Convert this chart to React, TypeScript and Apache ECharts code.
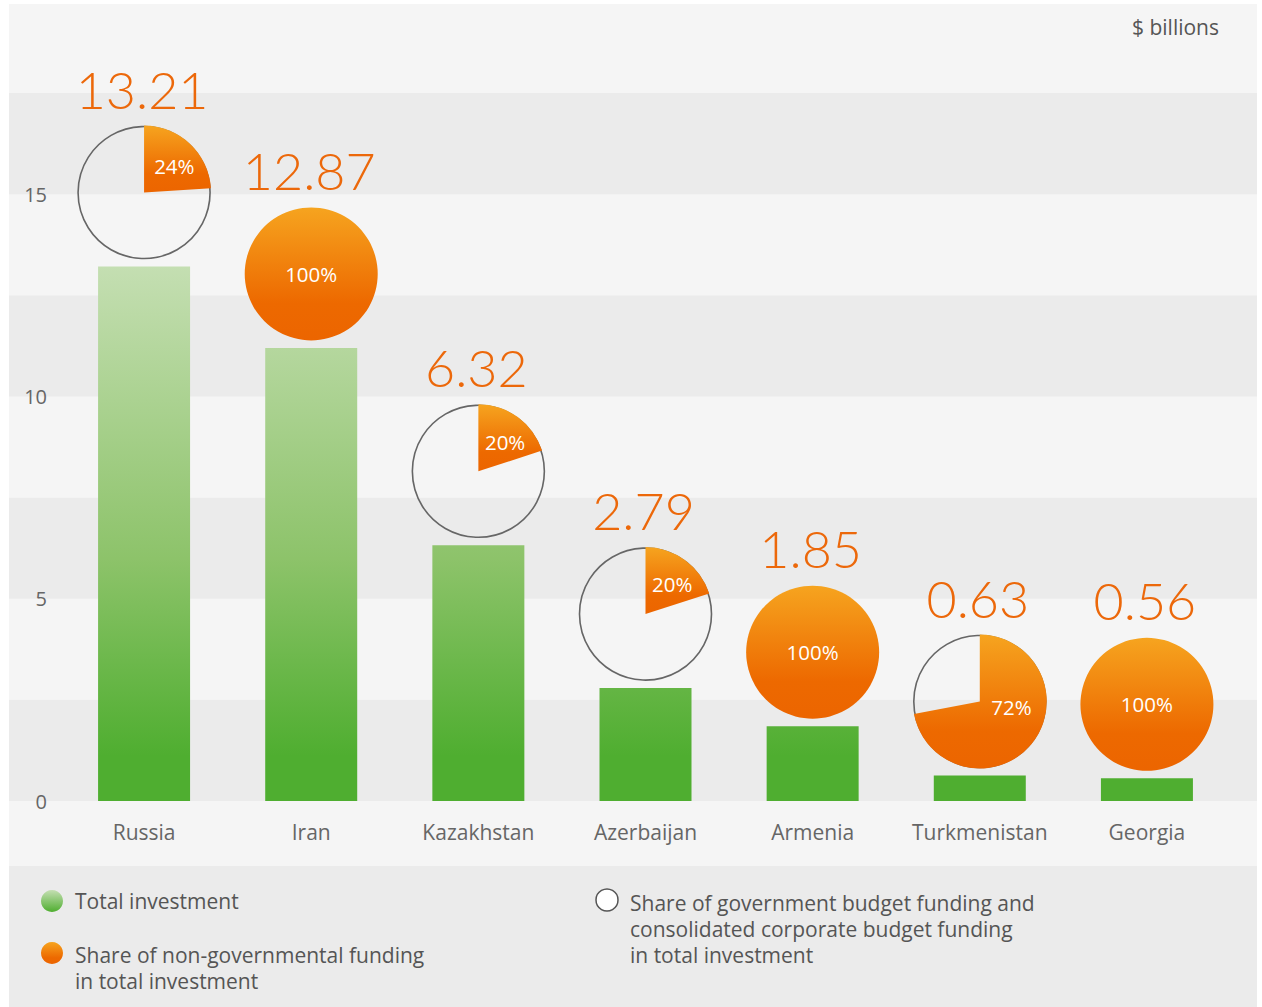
import React, { useEffect, useRef } from "react";
import * as echarts from "echarts";

const countries = ["Russia", "Iran", "Kazakhstan", "Azerbaijan", "Armenia", "Turkmenistan", "Georgia"];
// labelled totals ($ billions)
const totalInvestment = [13.21, 12.87, 6.32, 2.79, 1.85, 0.63, 0.56];
// bar heights as drawn in the reference (Iran's bar is drawn lower than its label)
const drawnBarHeights = [13.21, 11.2, 6.32, 2.79, 1.85, 0.63, 0.56];
// share of non-governmental funding, %
const nonGovShare = [24, 100, 20, 20, 100, 72, 100];
const yTickLabels = [0, 5, 10, 15];

const FONT = "'Open Sans', Lato, sans-serif";
const NUM_FONT = "Lato, 'Open Sans', sans-serif";
const ORANGE_TEXT = "#ec680a";
const TXT = 21;

const orangeGrad = () =>
  new echarts.graphic.LinearGradient(0, 0, 0, 1, [
    { offset: 0, color: "#f6a41f" },
    { offset: 0.72, color: "#ed6900" },
    { offset: 1, color: "#ec6500" },
  ]);

export default function App() {
  const ref = useRef<HTMLDivElement>(null);
  useEffect(() => {
    if (!ref.current) return;
    const chart = echarts.init(ref.current, undefined, { renderer: "svg" });
    const R = 66;
    const option: any = {
      animation: false,
      backgroundColor: "#f5f5f5",
      textStyle: { fontFamily: FONT },
      grid: [
        { left: 0, right: 0, top: 89, bottom: 206, outerBoundsMode: "none" },
        { left: 51.5, right: 26.5, top: 89, bottom: 206, outerBoundsMode: "none" },
      ],
      xAxis: [
        { gridIndex: 0, type: "value", min: 0, max: 1, show: false },
        {
          gridIndex: 1,
          type: "category",
          data: countries,
          axisLine: { show: false },
          axisTick: { show: false },
          axisLabel: {
            color: "#666",
            fontSize: TXT,
            margin: 20,
            fontFamily: FONT,
            interval: 0,
            hideOverlap: false,
          },
        },
      ],
      yAxis: [
        {
          gridIndex: 0,
          type: "value",
          min: 0,
          max: 17.5,
          interval: 2.5,
          axisLine: { show: false },
          axisTick: { show: false },
          splitLine: { show: false },
          splitArea: { show: true, areaStyle: { color: ["#ebebeb", "#f5f5f5"] } },
          axisLabel: {
            inside: true,
            align: "right",
            margin: 38,
            color: "#666",
            fontSize: 20,
            fontFamily: FONT,
            formatter: (v: number) => (yTickLabels.includes(v) ? String(v) : ""),
          },
        },
        { gridIndex: 1, type: "value", min: 0, max: 17.5, show: false },
      ],
      graphic: [
        { type: "rect", left: 0, top: 862, shape: { width: 1248, height: 141 }, style: { fill: "#ebebeb" }, z: -1 },
        {
          type: "text",
          right: 38,
          top: 12,
          style: { text: "$ billions", fill: "#555", fontSize: TXT, fontFamily: FONT },
        },
        {
          type: "circle",
          shape: { cx: 43, cy: 897, r: 11 },
          style: {
            fill: new echarts.graphic.LinearGradient(0, 0, 0, 1, [
              { offset: 0, color: "#c5dfb3" },
              { offset: 1, color: "#4fae30" },
            ]),
          },
        },
        {
          type: "text",
          x: 66,
          y: 897,
          style: { text: "Total investment", fill: "#555", fontSize: TXT, fontFamily: FONT, verticalAlign: "middle" },
        },
        { type: "circle", shape: { cx: 43, cy: 949, r: 11 }, style: { fill: orangeGrad() } },
        {
          type: "text",
          x: 66,
          y: 938,
          style: {
            text: "Share of non-governmental funding\nin total investment",
            fill: "#555",
            fontSize: TXT,
            lineHeight: 26,
            fontFamily: FONT,
          },
        },
        { type: "circle", shape: { cx: 598, cy: 896, r: 11 }, style: { fill: "#fff", stroke: "#555", lineWidth: 1.5 } },
        {
          type: "text",
          x: 621,
          y: 886,
          style: {
            text: "Share of government budget funding and\nconsolidated corporate budget funding\nin total investment",
            fill: "#555",
            fontSize: TXT,
            lineHeight: 26,
            fontFamily: FONT,
          },
        },
      ],
      series: [
        {
          type: "bar",
          xAxisIndex: 1,
          yAxisIndex: 1,
          data: drawnBarHeights,
          barWidth: 92,
          itemStyle: {
            color: {
              type: "linear",
              x: 0,
              y: 258,
              x2: 0,
              y2: 752,
              global: true,
              colorStops: [
                { offset: 0, color: "#c5dfb3" },
                { offset: 0.6, color: "#8dc36a" },
                { offset: 1, color: "#4fae30" },
              ],
            },
          },
        },
        {
          type: "custom",
          xAxisIndex: 1,
          yAxisIndex: 1,
          z: 5,
          data: countries.map((c, i) => [i, drawnBarHeights[i], totalInvestment[i], nonGovShare[i]]),
          renderItem: (params: any, api: any) => {
            const pt = api.coord([api.value(0), api.value(1)]);
            const cx = pt[0];
            const cy = pt[1] - 74;
            const pct = api.value(3) / 100;
            const children: any[] = [];
            let lx = cx;
            let ly = cy;
            if (pct < 1) {
              children.push({
                type: "circle",
                shape: { cx, cy, r: R },
                style: { fill: "none", stroke: "#666", lineWidth: 1.6 },
              });
              children.push({
                type: "sector",
                shape: {
                  cx,
                  cy,
                  r: R + 1,
                  r0: 0,
                  startAngle: -Math.PI / 2,
                  endAngle: -Math.PI / 2 + pct * 2 * Math.PI,
                  clockwise: true,
                },
                style: { fill: orangeGrad() },
              });
              const midDeg = Math.min(pct * 180 + 6, 99);
              const a = (midDeg * Math.PI) / 180;
              const rr = midDeg > 90 ? 32 : 40;
              lx = cx + rr * Math.sin(a);
              ly = cy - rr * Math.cos(a);
            } else {
              children.push({ type: "circle", shape: { cx, cy, r: R + 0.5 }, style: { fill: orangeGrad() } });
            }
            children.push({
              type: "text",
              style: {
                text: Math.round(api.value(3)) + "%",
                x: lx,
                y: ly,
                fill: "#fff",
                fontSize: 20.5,
                fontWeight: 500,
                fontFamily: FONT,
                align: "center",
                verticalAlign: "middle",
              },
            });
            children.push({
              type: "text",
              style: {
                text: Number(api.value(2)).toFixed(2),
                x: cx - 2,
                y: cy - 104,
                fill: ORANGE_TEXT,
                fontSize: 52,
                fontWeight: 300,
                fontFamily: NUM_FONT,
                align: "center",
                verticalAlign: "middle",
              },
            });
            return { type: "group", children };
          },
        },
      ],
    };
    chart.setOption(option);
    return () => chart.dispose();
  }, []);
  return (
    <div
      ref={ref}
      style={{ position: "absolute", left: 9, top: 4, width: 1248, height: 1003 }}
    />
  );
}
